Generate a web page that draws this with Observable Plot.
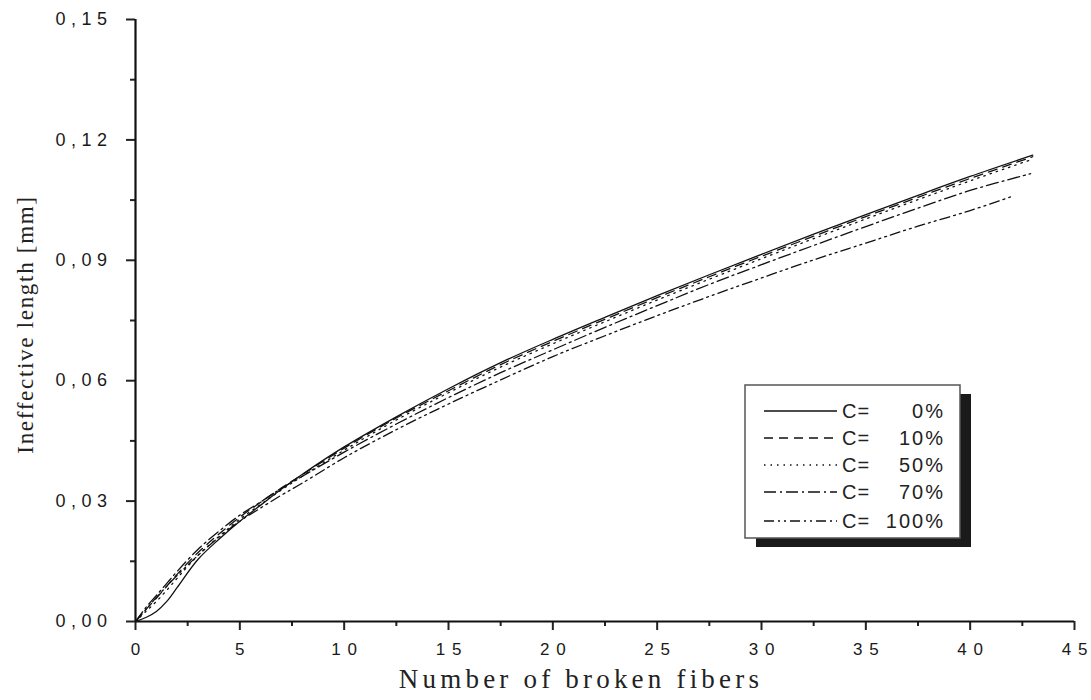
<!DOCTYPE html>
<html>
<head>
<meta charset="utf-8">
<script src="https://cdn.jsdelivr.net/npm/d3@7"></script>
<script src="https://cdn.jsdelivr.net/npm/@observablehq/plot@0.6"></script>
<style>
  html, body { margin: 0; padding: 0; background: #fff; }
  #wrap { position: relative; width: 1091px; height: 700px; }
  #wrap svg [aria-label="y-axis tick label"] { font-size: 18px; font-family: 'Liberation Sans', Arial, sans-serif; }
  #wrap svg [aria-label="y-axis tick label"] text { letter-spacing: 5.5px; }
  #wrap svg [aria-label="x-axis tick label"] { font-size: 17px; font-family: 'Liberation Sans', Arial, sans-serif; }
  #legend { position: absolute; left: 743px; top: 384px; }
</style>
</head>
<body>
<div id="wrap"></div>
<script>
// Categories
const seriesNames = ["C=   0%", "C=  10%", "C=  50%", "C=  70%", "C=100%"];
const seriesNum = ["0%", "10%", "50%", "70%", "100%"];
const dashes = ["none", "9,6", "1.5,5", "12,4,2,4", "10,4,2,4,2,4"];

// x values (number of broken fibers)
const xA = [0,0.5,1,1.5,2,3,4,5,6,7,8,10,12.5,15,17.5,20,22.5,25,27.5,30,32.5,35,37.5,40,43];
const x70 = [0,0.5,1,1.5,2,3,4,5,6,7,8,10,12.5,15,17.5,20,22.5,25,27.5,30,32.5,35,37.5,40,42.9];
const x100 = [0,0.5,1,1.5,2,3,4,5,6,7,8,10,12.5,15,17.5,20,22.5,25,27.5,30,32.5,35,37.5,40,42];

// Ineffective length [mm]
const c0   = [0,0.001,0.0025,0.005,0.0085,0.0155,0.0205,0.025,0.029,0.033,0.0367,0.0435,0.051,0.058,0.0645,0.0703,0.0758,0.0812,0.0864,0.0915,0.0965,0.1014,0.1062,0.1109,0.1162];
const c10  = [0,0.003,0.0058,0.0088,0.0118,0.0172,0.0218,0.026,0.0297,0.0333,0.0366,0.0432,0.0507,0.0575,0.064,0.0698,0.0753,0.0807,0.0859,0.091,0.096,0.1009,0.1057,0.1104,0.1158];
const c50  = [0,0.0025,0.005,0.0078,0.0108,0.0165,0.0212,0.0255,0.0292,0.0328,0.0362,0.0427,0.0502,0.057,0.0634,0.0692,0.0747,0.0801,0.0853,0.0904,0.0954,0.1003,0.1051,0.1098,0.1152];
const c70  = [0,0.0035,0.0065,0.0095,0.0125,0.018,0.0225,0.0265,0.0298,0.0332,0.0362,0.0422,0.0492,0.0558,0.062,0.0677,0.0733,0.0787,0.084,0.0889,0.0937,0.0984,0.103,0.1074,0.1116];
const c100 = [0,0.003,0.006,0.0088,0.0115,0.0165,0.021,0.025,0.0283,0.0315,0.0345,0.0408,0.0478,0.0542,0.0602,0.066,0.0712,0.0762,0.081,0.0856,0.0901,0.0943,0.0985,0.1024,0.1059];

// Tick values
const xMajor = [0,5,10,15,20,25,30,35,40,45];
const xMinor = [2.5,7.5,12.5,17.5,22.5,27.5,32.5,37.5,42.5];
const yMajor = [0,0.03,0.06,0.09,0.12,0.15];
const yMinor = [0.015,0.045,0.075,0.105,0.135];

const xsList = [xA, xA, xA, x70, x100];
const ysList = [c0, c10, c50, c70, c100];
const data = [];
seriesNames.forEach((s, i) => {
  xsList[i].forEach((x, j) => data.push({series: s, idx: i, x, y: ysList[i][j]}));
});

const fmtY = d => d3.format(".2f")(d).replace(".", ",");
const fmtX = d => String(d).split("").join("\u2009\u2009");
const tickFont = "'Liberation Sans', Arial, sans-serif";
const serif = "'Liberation Serif', 'Times New Roman', serif";

const lineMarks = seriesNames.map((s, i) =>
  Plot.line(data.filter(d => d.idx === i), {
    x: "x", y: "y", stroke: "#111", strokeWidth: 1.3,
    strokeDasharray: dashes[i] === "none" ? null : dashes[i],
    curve: "catmull-rom"
  })
);

const chart = Plot.plot({
  width: 1091,
  height: 700,
  marginLeft: 135,
  marginRight: 17,
  marginTop: 19,
  marginBottom: 79,
  x: {domain: [0, 45]},
  y: {domain: [0, 0.15]},
  style: {background: "white", color: "#222"},
  marks: [
    ...lineMarks,
    Plot.axisX({ticks: xMajor, tickSize: 9, tickPadding: 12, strokeWidth: 2,
      fontSize: 17, fontFamily: tickFont, fill: "#1a1a1a", label: null, tickFormat: fmtX}),
    Plot.axisX({ticks: xMinor, tickSize: 5, strokeWidth: 2, text: null, label: null}),
    Plot.axisY({ticks: yMajor, tickSize: 9, tickPadding: 14, strokeWidth: 2,
      fontSize: 18, fontFamily: tickFont, fill: "#1a1a1a", label: null, tickFormat: fmtY}),
    Plot.axisY({ticks: yMinor, tickSize: 5, strokeWidth: 2, text: null, label: null}),
    Plot.ruleY([0], {x1: 0, x2: 45, stroke: "#111", strokeWidth: 2.2}),
    Plot.ruleX([0], {y1: 0, y2: 0.15, stroke: "#111", strokeWidth: 2.2}),
    Plot.text(["Number of broken fibers"], {frameAnchor: "bottom", dy: 66, dx: -24,
      fontSize: 27, fontFamily: serif, fill: "#222"}),
    Plot.text(["Ineffective length [mm]"], {frameAnchor: "left", dx: -110, dy: 4, rotate: -90, textAnchor: "middle",
      fontSize: 23, fontFamily: serif, fill: "#222"})
  ]
});
// letter spacing / font for titles
chart.querySelectorAll("text").forEach(t => {
  if (t.textContent === "Number of broken fibers") {
    t.style.fontFamily = serif; t.style.fontSize = "27px"; t.style.letterSpacing = "4.2px";
  }
  if (t.textContent === "Ineffective length [mm]") {
    t.style.fontFamily = serif; t.style.fontSize = "23px"; t.style.letterSpacing = "1.7px";
  }
});

const wrap = document.getElementById("wrap");
wrap.appendChild(chart);

// Legend (built from the same categories & dash styles)
const ns = "http://www.w3.org/2000/svg";
const leg = document.createElementNS(ns, "svg");
leg.setAttribute("id", "legend");
leg.setAttribute("width", 232);
leg.setAttribute("height", 168);
const mk = (tag, attrs) => { const e = document.createElementNS(ns, tag); for (const k in attrs) e.setAttribute(k, attrs[k]); leg.appendChild(e); return e; };
mk("rect", {x: 13, y: 10, width: 215, height: 153, fill: "#1a1a1a"});
mk("rect", {x: 2, y: 1, width: 215, height: 153, fill: "white", stroke: "#555", "stroke-width": 1.5});
const rowsY = [27, 54, 81, 108, 137];
seriesNum.forEach((s, i) => {
  const y = rowsY[i];
  const l = mk("line", {x1: 21, x2: 94, y1: y, y2: y, stroke: "#111", "stroke-width": 1.3});
  if (dashes[i] !== "none") l.setAttribute("stroke-dasharray", dashes[i]);
  const t1 = mk("text", {x: 99, y: y + 7, "font-size": 20, "font-family": tickFont, fill: "#222", "letter-spacing": "1px"});
  t1.textContent = "C=";
  const t2 = mk("text", {x: 202, y: y + 7, "font-size": 20, "font-family": tickFont, fill: "#222", "text-anchor": "end", "letter-spacing": "2px"});
  t2.textContent = s;
});
wrap.appendChild(leg);
</script>
</body>
</html>
